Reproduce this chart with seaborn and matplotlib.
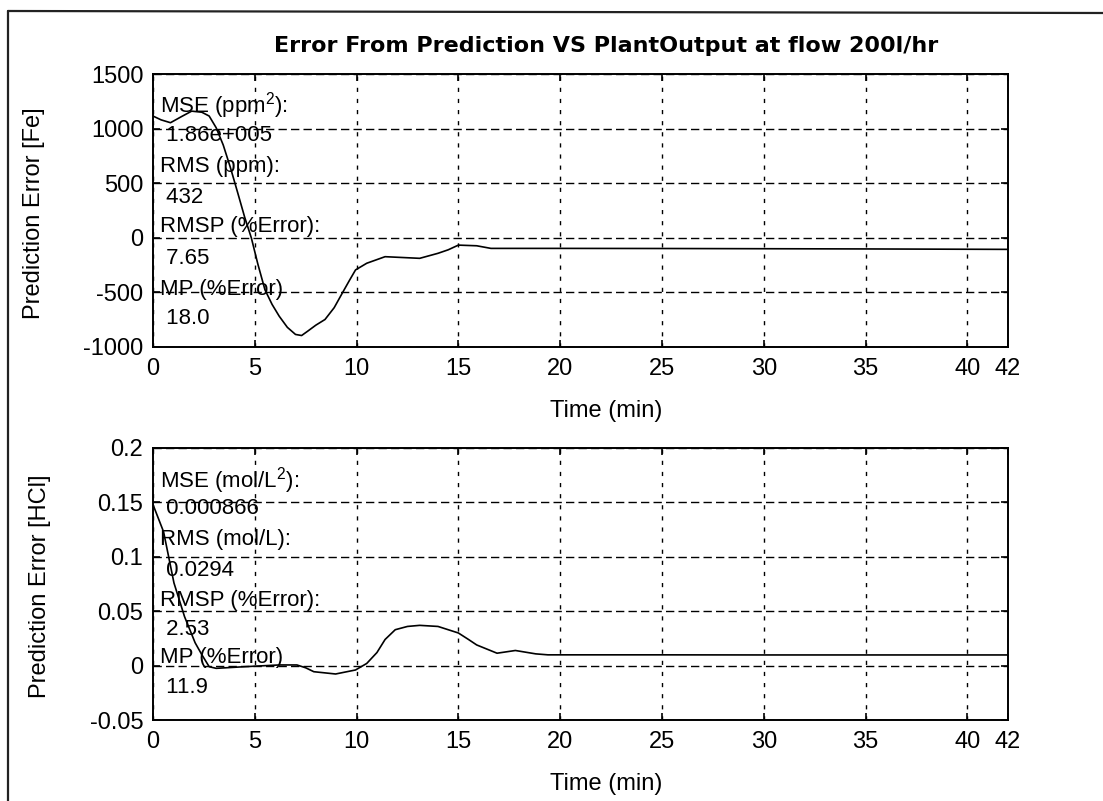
import matplotlib
matplotlib.use("Agg")
import matplotlib.pyplot as plt
from matplotlib.lines import Line2D
import seaborn as sns
import pandas as pd

# Prediction error of iron concentration (ppm) over time (min)
t_fe = [0, 0.4, 0.86, 1.4, 1.9, 2.4, 2.76, 3.1, 3.45, 3.8,
        4.15, 4.5, 4.83, 5.15, 5.5, 5.85, 6.2, 6.6, 7.0, 7.3,
        7.6, 8.0, 8.45, 8.9, 9.3, 9.65, 9.95, 10.5, 11.4, 12.2,
        13.1, 14.0, 14.5, 15.0, 15.9, 16.6, 20, 25, 30, 35, 42]
err_fe = [1115, 1080, 1054, 1110, 1160, 1150, 1115, 1009, 850, 645,
          420, 191, 0, -240, -476, -610, -718, -820, -885, -895,
          -855, -800, -748, -640, -506, -390, -294, -233, -173, -180,
          -188, -142, -110, -67, -73, -97, -97, -98, -100, -102, -106]

# Prediction error of HCl concentration (mol/L) over time (min)
t_hcl = [0, 0.52, 1.03, 1.55, 2.07, 2.4, 2.76, 3.1, 4.5, 6.2,
         7.07, 7.5, 7.9, 8.97, 9.95, 10.5, 11.0, 11.4, 11.9, 12.5,
         13.1, 14.0, 15.0, 15.5, 15.9, 16.9, 17.8, 18.8, 19.4, 25,
         30, 35, 42]
err_hcl = [0.148, 0.123, 0.076, 0.045, 0.021, 0.010, -0.001, -0.0025, -0.001, 0.0006,
           0.0006, -0.002, -0.0056, -0.0077, -0.004, 0.002, 0.012, 0.024, 0.033, 0.036,
           0.037, 0.036, 0.030, 0.024, 0.019, 0.0114, 0.0139, 0.0108, 0.0099, 0.0099,
           0.0098, 0.0098, 0.0098]

x_ticks = [0, 5, 10, 15, 20, 25, 30, 35, 40, 42]
fe_ticks = [-1000, -500, 0, 500, 1000, 1500]
hcl_ticks = [-0.05, 0, 0.05, 0.1, 0.15, 0.2]
hcl_tick_labels = ["-0.05", "0", "0.05", "0.1", "0.15", "0.2"]

fe_stats = ["MSE (ppm$^{\\mathrm{2}}$):", " 1.86e+005", "RMS (ppm):", " 432",
            "RMSP (%Error):", " 7.65", "MP (%Error)", " 18.0"]
hcl_stats = ["MSE (mol/L$^{\\mathrm{2}}$):", " 0.000866", "RMS (mol/L):", " 0.0294",
             "RMSP (%Error):", " 2.53", "MP (%Error)", " 11.9"]

title = "Error From Prediction VS PlantOutput at flow 200l/hr"

sns.set_style("ticks")
plt.rcParams["font.family"] = ["Liberation Sans", "DejaVu Sans"]
plt.rcParams["axes.unicode_minus"] = False
plt.rcParams["mathtext.fontset"] = "custom"
plt.rcParams["mathtext.rm"] = "Liberation Sans"
plt.rcParams["mathtext.it"] = "Liberation Sans"

fig = plt.figure(figsize=(11.03, 8.01), dpi=100, facecolor="white")
ax_fe = fig.add_axes([0.1387, 0.5668, 0.7752, 0.3408])
ax_hcl = fig.add_axes([0.1387, 0.1011, 0.7752, 0.3396])

df_fe = pd.DataFrame({"t": t_fe, "e": err_fe})
df_hcl = pd.DataFrame({"t": t_hcl, "e": err_hcl})
sns.lineplot(data=df_fe, x="t", y="e", ax=ax_fe, color="black", lw=1.2, estimator=None)
sns.lineplot(data=df_hcl, x="t", y="e", ax=ax_hcl, color="black", lw=1.2, estimator=None)


def style_axes(ax, yticks, ylim, ylabel, stats, stat_y, label_x, ytick_labels=None):
    ax.set_xlim(0, 42)
    ax.set_ylim(*ylim)
    ax.set_xticks(x_ticks)
    ax.set_yticks(yticks)
    if ytick_labels is not None:
        ax.set_yticklabels(ytick_labels)
    ax.set_facecolor("white")
    for s in ax.spines.values():
        s.set_visible(True)
        s.set_color("black")
        s.set_linewidth(1.4)
    ax.tick_params(axis="both", direction="in", length=5, width=1.2,
                   top=True, right=True, labelsize=17, colors="black")
    ax.tick_params(axis="x", pad=8)
    ax.tick_params(axis="y", pad=7)
    ax.xaxis.grid(True, color="black", lw=1.0, linestyle=(0, (3, 5)))
    ax.yaxis.grid(True, color="black", lw=1.0, linestyle=(0, (6, 3)))
    ax.set_axisbelow(False)
    ax.set_xlabel("Time (min)", fontsize=17, color="black")
    ax.xaxis.set_label_coords(0.53, -0.195)
    ax.set_ylabel(ylabel, fontsize=17, color="black")
    ax.yaxis.set_label_coords(label_x, 0.49)
    for txt, yy in zip(stats, stat_y):
        ax.text(0.008, 1 - yy, txt, transform=ax.transAxes, fontsize=16,
                ha="left", va="center", color="black")


style_axes(ax_fe, fe_ticks, (-1000, 1500), "Prediction Error [Fe]", fe_stats,
           [0.114, 0.227, 0.337, 0.451, 0.560, 0.674, 0.788, 0.897], -0.126)
style_axes(ax_hcl, hcl_ticks, (-0.05, 0.2), "Prediction Error [HCl]", hcl_stats,
           [0.118, 0.221, 0.338, 0.449, 0.559, 0.669, 0.772, 0.882], -0.119,
           hcl_tick_labels)

fig.text(606 / 1103, 1 - 46 / 801, title, ha="center", va="center",
         fontsize=16, fontweight="bold", family="DejaVu Sans", color="black")

# Page frame: left and top edges
fig.add_artist(Line2D([8 / 1103, 8 / 1103], [0, 1 - 11 / 801],
                      transform=fig.transFigure, color="#222222", lw=1.6))
fig.add_artist(Line2D([8 / 1103, 1], [1 - 11 / 801, 1 - 13 / 801],
                      transform=fig.transFigure, color="#222222", lw=1.6))

fig.savefig("out.png", dpi=100, facecolor="white")
